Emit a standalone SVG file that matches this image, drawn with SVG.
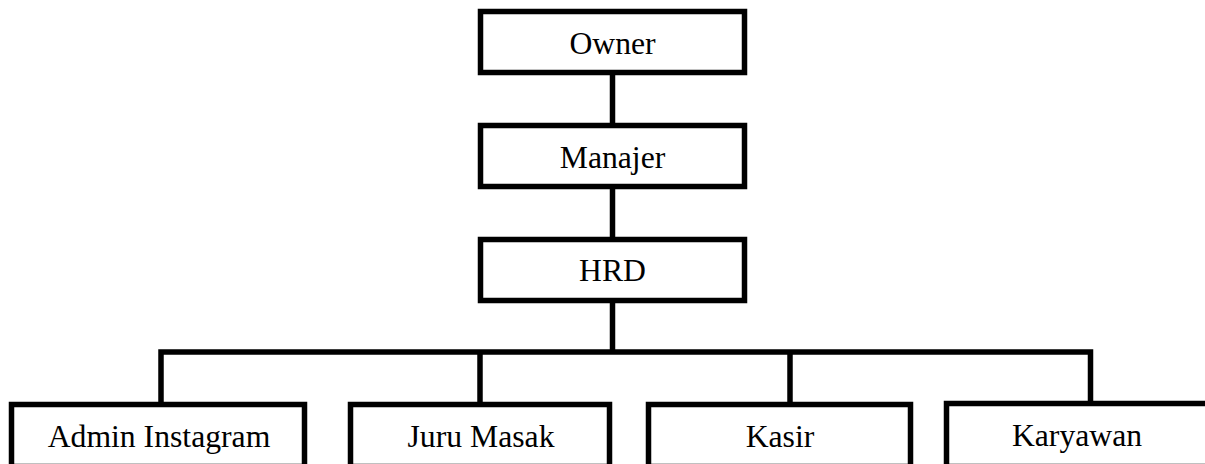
<svg xmlns="http://www.w3.org/2000/svg" width="1205" height="464" viewBox="0 0 1205 464">
<style>
.box{fill:#fff;stroke:#000;stroke-width:5.5}
.lbl{font-family:"Liberation Serif","Times New Roman",serif;font-size:31.7px;fill:#000;text-anchor:middle}
.conn{fill:none;stroke:#000;stroke-width:5.5;stroke-linejoin:miter;stroke-linecap:butt}
</style>
<rect width="1205" height="464" fill="#fff"/>
<g id="connectors">
<line class="conn" x1="612.5" y1="72" x2="612.5" y2="126"/>
<line class="conn" x1="612.5" y1="186" x2="612.5" y2="240"/>
<line class="conn" x1="612.5" y1="300" x2="612.5" y2="352"/>
<path class="conn" d="M161,405 V352 H1090.5 V405"/>
<line class="conn" x1="480" y1="352" x2="480" y2="405"/>
<line class="conn" x1="790" y1="352" x2="790" y2="405"/>
</g>
<g id="owner"><rect class="box" x="480.5" y="11.5" width="264" height="61"/><text class="lbl" x="612.5" y="54">Owner</text></g>
<g id="manajer"><rect class="box" x="480.5" y="125.5" width="264" height="61"/><text class="lbl" x="612.5" y="167.5">Manajer</text></g>
<g id="hrd"><rect class="box" x="480.5" y="239.5" width="264" height="61"/><text class="lbl" x="612.5" y="281">HRD</text></g>
<g id="admin-instagram"><rect class="box" x="11.5" y="404.5" width="293" height="62"/><text class="lbl" x="159" y="446.5">Admin Instagram</text></g>
<g id="juru-masak"><rect class="box" x="350.5" y="404.5" width="259" height="62"/><text class="lbl" x="481" y="446.5">Juru Masak</text></g>
<g id="kasir"><rect class="box" x="648.5" y="404.5" width="262" height="62"/><text class="lbl" x="780" y="446.5">Kasir</text></g>
<g id="karyawan"><rect class="box" x="946.5" y="403.5" width="262" height="63"/><text class="lbl" x="1077" y="446">Karyawan</text></g>
</svg>
